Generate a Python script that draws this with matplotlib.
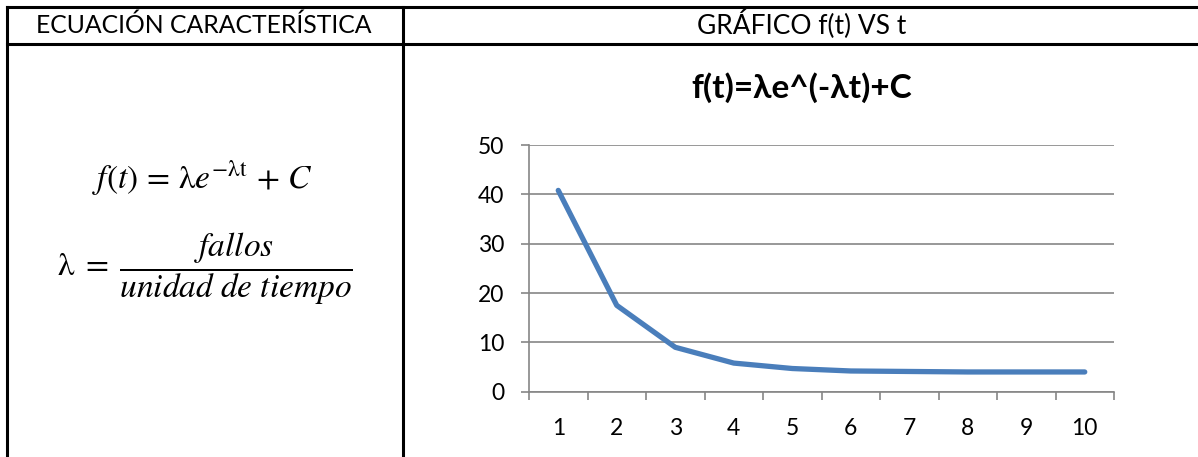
import matplotlib
matplotlib.use("Agg")
import matplotlib.pyplot as plt
from matplotlib.lines import Line2D

plt.rcParams['font.family'] = ['Lato', 'DejaVu Sans']
plt.rcParams['mathtext.fontset'] = 'stix'

# datos
t_vals = [1, 2, 3, 4, 5, 6, 7, 8, 9, 10]
f_vals = [40.8, 17.5, 9.0, 5.8, 4.7, 4.2, 4.1, 4.0, 4.0, 4.0]
y_ticks = [0, 10, 20, 30, 40, 50]

header_left = "ECUACIÓN CARACTERÍSTICA"
header_right = "GRÁFICO f(t) VS t"
chart_title = "f(t)=λe^(-λt)+C"

W, H = 1198, 457
fig = plt.figure(figsize=(W / 100, H / 100), dpi=100)


# pasar de pixeles (origen arriba-izquierda) a fracción de figura
def px(x, y):
    return x / W, 1 - y / H


# bordes de la tabla
for (x0, y0), (x1, y1) in [((7, 7), (W, 7)), ((7, 44), (W, 44)),
                           ((7, 7), (7, H)), ((403, 7), (403, H))]:
    a, b = px(x0, y0)
    c, d = px(x1, y1)
    fig.add_artist(Line2D([a, c], [b, d], color='black', lw=2.2,
                          transform=fig.transFigure))

fig.text(*px(204, 33), header_left, ha='center', va='baseline', fontsize=17.8)
fig.text(*px(802, 33), header_right, ha='center', va='baseline', fontsize=19)

# ecuaciones
fig.text(*px(202, 178), r'$f(t)\,=\,\mathrm{\lambda} e^{-\mathrm{\lambda t}}\,+\,C$',
         ha='center', va='center', fontsize=24)
fig.text(*px(205, 269), r'$\mathrm{\lambda}\;=\;\dfrac{fallos}{unidad\ de\ tiempo}$',
         ha='center', va='center', fontsize=24)

# gráfico
ax = fig.add_axes([529 / W, 1 - 391.7 / H, 585 / W, 246.7 / H])
ax.plot(t_vals, f_vals, color='#4A7EBB', lw=3.8, solid_capstyle='round',
        solid_joinstyle='round', zorder=3)
ax.set_xlim(0.5, len(t_vals) + 0.5)
ax.set_ylim(min(y_ticks), max(y_ticks))
ax.set_yticks(y_ticks)
ax.set_xticks([i + 0.5 for i in range(len(t_vals) + 1)])
ax.set_xticklabels([])
ax.set_xticks(t_vals, minor=True)
ax.set_xticklabels([str(t) for t in t_vals], minor=True, fontsize=16.5)
ax.tick_params(axis='x', which='minor', length=0, pad=19)
ax.tick_params(axis='both', which='major', length=6, width=1.2,
               color='#868686', labelsize=16.5, direction='out')
ax.tick_params(axis='y', pad=12)
ax.grid(axis='y', color='#868686', lw=1.2)
ax.set_axisbelow(True)
for s in ['top', 'right']:
    ax.spines[s].set_visible(False)
for s in ['left', 'bottom']:
    ax.spines[s].set_color('#868686')
    ax.spines[s].set_linewidth(1.2)
ax.patch.set_alpha(0)

fig.text(*px(802, 98), chart_title, ha='center', va='baseline',
         fontsize=24, fontweight='bold')

fig.savefig('out.png', dpi=100)
